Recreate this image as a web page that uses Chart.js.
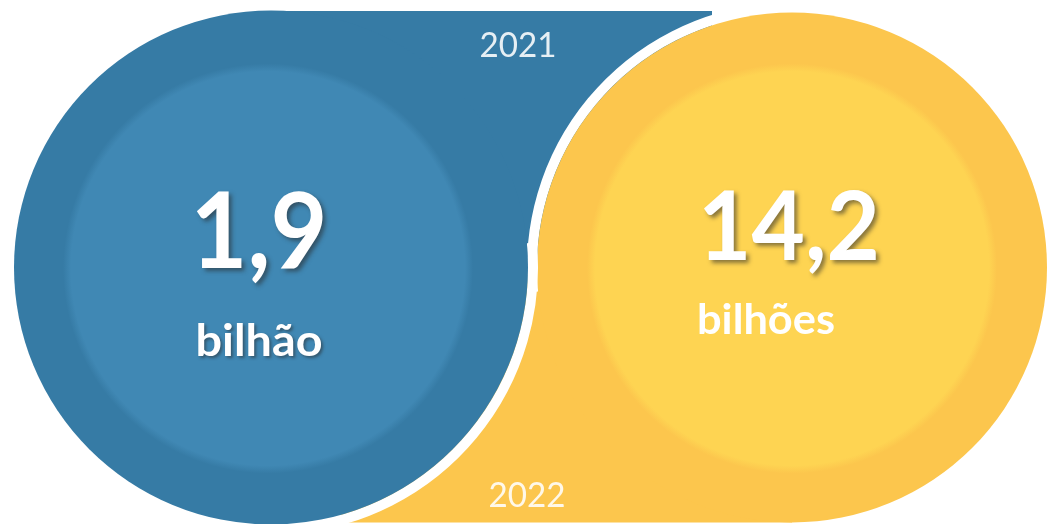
<!DOCTYPE html>
<html lang="pt-BR">
<head>
<meta charset="utf-8">
<title>Bilhões 2021 x 2022</title>
<script src="https://cdn.jsdelivr.net/npm/chart.js@4.4.1/dist/chart.umd.min.js"></script>
<style>
  html, body { margin: 0; padding: 0; background: #ffffff; }
  #wrap { width: 1049px; height: 524px; position: relative; }
</style>
</head>
<body>
<div id="wrap"><canvas id="myChart"></canvas></div>
<script>
// data
const years = ["2021", "2022"];
const values = [1.9, 14.2];
const units = ["bilhão", "bilhões"];

// look
const outerColors = ["#367ba5", "#fcc64d"];
const innerColors = ["#4088b4", "#fed452"];
const outerRadius = [257, 255];
const innerRadius = 201;
const gap = 10;

// text placement relative to each circle centre (dx, baseline dy, target width)
const numberStyle = [
  { dx: -12, dy: 0, size: 106, width: 137, align: "center" },
  { dx: -3, dy: -8, size: 96, width: 182, align: "center" },
];
const unitStyle = [
  { dx: -12, dy: 88, size: 44, width: 127, align: "center", shadow: true },
  { dx: -95, dy: 66, size: 42, width: 138, align: "left", shadow: false },
];
const yearStyle = [
  { dx: 247, top: true },
  { dx: -265, top: false },
];

const fmt = (v) => v.toLocaleString("pt-BR", { minimumFractionDigits: 1 });

const drawText = (ctx, text, x, y, font, align, targetWidth) => {
  ctx.font = font;
  const w = ctx.measureText(text).width;
  const sx = targetWidth ? targetWidth / w : 1;
  let startX = x;
  if (align === "center") startX = x - (w * sx) / 2;
  ctx.save();
  ctx.translate(startX, y);
  ctx.scale(sx, 1);
  ctx.textAlign = "left";
  ctx.textBaseline = "alphabetic";
  ctx.fillText(text, 0, 0);
  ctx.restore();
};

const softDisc = (ctx, x, y, r, inner, outer) => {
  const g = ctx.createRadialGradient(x, y, r - 4, x, y, r + 4);
  g.addColorStop(0, inner);
  g.addColorStop(1, outer);
  ctx.fillStyle = g;
  ctx.beginPath();
  ctx.arc(x, y, r + 4, 0, Math.PI * 2);
  ctx.fill();
};

// draws the two linked circles at the x positions given by the category scale
const circlesPlugin = {
  id: "circles",
  beforeDatasetsDraw(chart) {
    const ctx = chart.ctx;
    const area = chart.chartArea;
    const meta = chart.getDatasetMeta(0);
    const bx = meta.data[0].x;
    const yx = meta.data[1].x;
    const cy = (area.top + area.bottom) / 2;
    const [rb, ry] = outerRadius;

    ctx.save();
    // blue band along the top
    ctx.fillStyle = outerColors[0];
    ctx.fillRect(bx, area.top, yx - 80 - bx, cy - area.top);
    // yellow band along the bottom
    ctx.fillStyle = outerColors[1];
    ctx.fillRect(bx + 70, cy, yx - bx - 70, ry);

    // white seam above, then yellow circle
    ctx.strokeStyle = "#ffffff";
    ctx.lineWidth = gap;
    ctx.beginPath();
    ctx.arc(yx, cy, ry + gap / 2, Math.PI * 0.97, Math.PI * 1.5);
    ctx.stroke();
    ctx.fillStyle = outerColors[1];
    ctx.beginPath();
    ctx.arc(yx, cy, ry, 0, Math.PI * 2);
    ctx.fill();
    softDisc(ctx, yx, cy + 1, innerRadius, innerColors[1], outerColors[1]);

    // white seam below, then blue circle
    ctx.beginPath();
    ctx.arc(bx, cy, rb + gap / 2, -Math.PI * 0.03, Math.PI * 0.5);
    ctx.stroke();
    ctx.fillStyle = outerColors[0];
    ctx.beginPath();
    ctx.arc(bx, cy, rb, 0, Math.PI * 2);
    ctx.fill();
    softDisc(ctx, bx - 3, cy + 1, innerRadius, innerColors[0], outerColors[0]);
    ctx.restore();
  },
  afterDatasetsDraw(chart) {
    const ctx = chart.ctx;
    const area = chart.chartArea;
    const meta = chart.getDatasetMeta(0);
    const cy = (area.top + area.bottom) / 2;

    ctx.save();
    meta.data.forEach((pt, i) => {
      const ns = numberStyle[i];
      const us = unitStyle[i];
      ctx.fillStyle = "#ffffff";

      ctx.save();
      ctx.shadowColor = "rgba(40,40,40,0.55)";
      ctx.shadowOffsetX = 3;
      ctx.shadowOffsetY = 3;
      ctx.shadowBlur = 4;
      drawText(ctx, fmt(values[i]), pt.x + ns.dx, cy + ns.dy,
        `bold ${ns.size}px Lato, "Open Sans", sans-serif`, ns.align, ns.width);
      ctx.restore();

      ctx.save();
      if (us.shadow) {
        ctx.shadowColor = "rgba(40,40,40,0.5)";
        ctx.shadowOffsetX = 2;
        ctx.shadowOffsetY = 2;
        ctx.shadowBlur = 3;
      }
      drawText(ctx, units[i], pt.x + us.dx, cy + us.dy,
        `bold ${us.size}px Lato, "Open Sans", sans-serif`, us.align, us.width);
      ctx.restore();

      const ys = yearStyle[i];
      ctx.fillStyle = "rgba(255,255,255,0.88)";
      const yy = ys.top ? area.top + 46 : area.bottom - 17;
      drawText(ctx, years[i], pt.x + ys.dx, yy,
        `34px Lato, "Open Sans", sans-serif`, "center", 77);
    });
    ctx.restore();
  },
};

document.addEventListener("DOMContentLoaded", () => {
  const ctx = document.getElementById("myChart");

  new Chart(ctx, {
    type: "line",
    data: {
      labels: years,
      datasets: [
        {
          label: "Valor (bilhões)",
          data: values,
          showLine: false,
          pointRadius: 0,
          pointHoverRadius: 0,
        },
      ],
    },
    options: {
      responsive: true,
      maintainAspectRatio: false,
      animation: false,
      layout: { padding: { left: 271, right: 257, top: 11, bottom: 0 } },
      scales: {
        x: { display: false, offset: false },
        y: { display: false },
      },
      plugins: {
        legend: { display: false },
        tooltip: { enabled: false },
      },
    },
    plugins: [circlesPlugin],
  });
});
</script>
</body>
</html>
